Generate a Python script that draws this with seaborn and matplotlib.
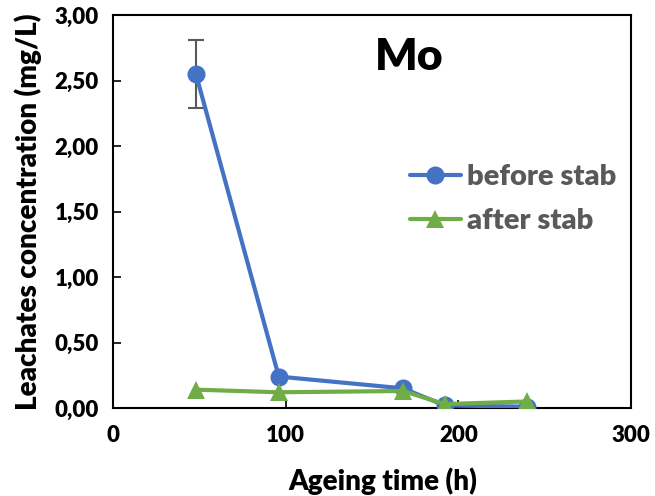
import matplotlib
matplotlib.use("Agg")
import matplotlib.pyplot as plt
import seaborn as sns
import pandas as pd
from matplotlib.ticker import FuncFormatter, MultipleLocator

time_h = [48, 96, 168, 192, 240]
before_stab = [2.55, 0.24, 0.15, 0.02, 0.01]
before_err = [0.26, 0.0, 0.0, 0.0, 0.0]
after_stab = [0.14, 0.12, 0.13, 0.03, 0.05]
series_names = ["before stab", "after stab"]

sns.set_theme(style="white")
plt.rcParams['font.family'] = ['Lato', 'DejaVu Sans']

df = pd.DataFrame({
    "time": time_h * 2,
    "conc": before_stab + after_stab,
    "series": [series_names[0]] * len(time_h) + [series_names[1]] * len(time_h),
})

fig = plt.figure(figsize=(6.55, 4.96), dpi=100)
ax = fig.add_axes([113 / 655, 1 - 408 / 496, 518 / 655, 393 / 496])

ax.errorbar(time_h, before_stab, yerr=before_err, fmt='none', ecolor='#595959',
            elinewidth=1.5, capsize=6, capthick=1.5, zorder=1)

sns.lineplot(data=df, x="time", y="conc", hue="series", style="series",
             markers={"before stab": "o", "after stab": "^"}, dashes=False,
             palette={"before stab": "#4472C4", "after stab": "#70AD47"},
             linewidth=3, markersize=13, markeredgewidth=0, ax=ax, zorder=3)

ax.set_xlim(0, 300)
ax.set_ylim(0, 3.0)
ax.xaxis.set_major_locator(MultipleLocator(100))
ax.yaxis.set_major_locator(MultipleLocator(0.5))
ax.yaxis.set_major_formatter(FuncFormatter(lambda v, p: f"{v:.2f}".replace(".", ",")))

for s in ["top", "right", "left", "bottom"]:
    ax.spines[s].set_visible(True)
    ax.spines[s].set_color("black")
    ax.spines[s].set_linewidth(1.5)

ax.tick_params(axis="both", which="major", direction="in", length=6, width=1.2,
               color="black", labelsize=16, labelcolor="black")
ax.tick_params(axis="y", left=True, right=False, pad=10)
ax.tick_params(axis="x", bottom=True, top=False, pad=12)
for lab in ax.get_xticklabels() + ax.get_yticklabels():
    lab.set_fontweight("heavy")

ax.set_xlabel("Ageing time (h)", fontsize=20, fontweight="heavy", color="black")
ax.xaxis.set_label_coords(0.521, -0.152)
ax.set_ylabel("Leachates concentration (mg/L)", fontsize=20, fontweight="heavy",
              color="black", labelpad=9)

ax.text(0.571, 0.893, "Mo", transform=ax.transAxes, fontsize=32, fontweight="heavy",
        color="black", ha="center", va="center")

leg = ax.legend(loc="upper left", bbox_to_anchor=(0.573, 0.62), frameon=False,
                fontsize=21, handlelength=1.75, handletextpad=0.2, labelspacing=0.6,
                borderaxespad=0, borderpad=0)
for t in leg.get_texts():
    t.set_fontweight("heavy")
    t.set_color("#595959")

fig.savefig("out.png", dpi=100)
